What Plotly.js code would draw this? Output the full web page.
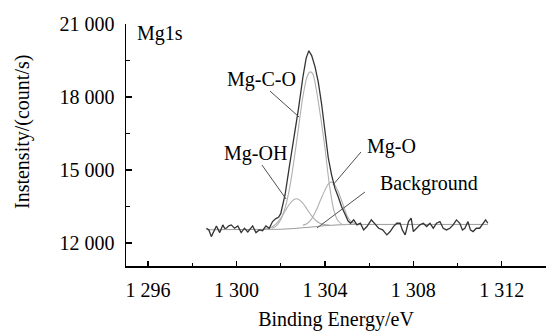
<!DOCTYPE html>
<html>
<head>
<meta charset="utf-8">
<script src="https://cdn.plot.ly/plotly-3.0.1.min.js"></script>
<style>html,body{margin:0;padding:0;background:#fff;}#chart{width:550px;height:334px;}</style>
</head>
<body>
<div id="chart"></div>
<script>
// Measured spectrum (Binding energy in eV, intensity in counts/s)
var dataX = [1298.64,1298.75,1298.86,1298.97,1299.09,1299.24,1299.38,1299.46,1299.54,1299.65,1299.76,1299.91,1300.06,1300.21,1300.36,1300.51,1300.62,1300.73,1300.88,1301.03,1301.18,1301.33,1301.48,1301.63,1301.78,1301.9,
  1302.0,1302.2,1302.4,1302.6,1302.8,1303.0,1303.15,1303.27,1303.4,1303.55,1303.7,1303.85,1304.0,1304.15,1304.3,1304.45,1304.6,1304.75,1304.9,1305.05,
  1305.16,1305.3,1305.45,1305.6,1305.75,1305.9,1306.1,1306.25,1306.43,1306.61,1306.8,1306.95,1307.1,1307.25,1307.4,1307.5,1307.63,1307.78,1307.9,1308.0,1308.15,1308.3,1308.45,1308.6,1308.75,1308.9,1309.05,1309.2,1309.35,1309.5,1309.65,1309.8,1309.95,1310.1,1310.22,1310.33,1310.47,1310.58,1310.7,1310.85,1311.0,1311.15,1311.27,1311.37];
var dataY = [12603,12530,12258,12500,12698,12423,12740,12600,12603,12700,12740,12603,12698,12423,12603,12450,12600,12698,12423,12534,12500,12698,12603,12877,13000,13050,
  13200,14000,15200,16300,17500,18800,19600,19900,19700,19250,18600,17700,16500,15500,14800,14250,13900,13500,13200,12900,
  12808,12945,12740,12808,12534,12671,12945,12808,12603,12534,12329,12466,12671,12808,12808,12534,12329,12877,13014,12466,12603,12740,12808,12671,12808,12603,12808,12877,12603,12534,12603,12740,12945,12808,12534,12603,12877,12534,12466,12603,12603,12808,12945,12808];

// Fitted components
var mgcoX = [1301.6,1301.8,1302.0,1302.2,1302.4,1302.6,1302.8,1303.0,1303.2,1303.33,1303.45,1303.6,1303.8,1304.0,1304.2,1304.4,1304.6,1304.8,1305.0];
var mgcoY = [12600,12700,12950,13450,14250,15400,16700,18000,18850,19030,18950,18350,17200,15900,14400,13350,12900,12760,12760];

var mgohX = [1301.2,1301.4,1301.6,1301.8,1302.0,1302.2,1302.4,1302.6,1302.7,1302.8,1303.0,1303.2,1303.4,1303.6,1303.8,1304.0,1304.2];
var mgohY = [12558,12586,12655,12792,13018,13310,13599,13786,13815,13796,13634,13373,13109,12912,12798,12751,12738];

var mgoX = [1303.0,1303.2,1303.4,1303.6,1303.8,1304.0,1304.15,1304.28,1304.4,1304.6,1304.8,1305.0,1305.2,1305.4];
var mgoY = [12720,12800,12990,13330,13760,14170,14420,14500,14440,14110,13620,13120,12860,12780];

var bgX = [1298.64,1301.5,1302.0,1302.5,1303.0,1303.5,1304.0,1304.5,1305.0,1311.37];
var bgY = [12540,12545,12560,12585,12615,12660,12710,12745,12760,12760];

// Axis ticks
var xTickVals = [1296,1300,1304,1308,1312];
var xTickText = ['1 296','1 300','1 304','1 308','1 312'];
var yTickVals = [12000,15000,18000,21000];
var yTickText = ['12 000','15 000','18 000','21 000'];

// Labels: text position and leader line (data coordinates)
var labelText = ['Mg-C-O','Mg-OH','Mg-O','Background'];
var labelPos = [[1301.15,18698],[1300.88,15696],[1306.99,15943],[1308.71,14422]];
var leaderFrom = [[1301.51,18245],[1301.15,15203],[1305.63,15737],[1305.81,14093]];
var leaderTo = [[1302.83,17176],[1302.24,13805],[1304.36,14380],[1303.64,12612]];

var FONT = '"Liberation Serif", "Times New Roman", Times, serif';
var TXT = '#000';
var compStyle = {color:'#b0b0b0', width:1.1, shape:'spline', smoothing:0.8};

var traces = [
  {x:bgX, y:bgY, mode:'lines', line:{color:'#9a9a9a', width:1}, hoverinfo:'skip'},
  {x:mgohX, y:mgohY, mode:'lines', line:compStyle, hoverinfo:'skip'},
  {x:mgoX, y:mgoY, mode:'lines', line:compStyle, hoverinfo:'skip'},
  {x:mgcoX, y:mgcoY, mode:'lines', line:compStyle, hoverinfo:'skip'},
  {x:dataX, y:dataY, mode:'lines', line:{color:'#333', width:1.3}, hoverinfo:'skip'}
];

var annotations = [];
var shapes = [];
for (var i = 0; i < labelText.length; i++) {
  annotations.push({x:labelPos[i][0], y:labelPos[i][1], xref:'x', yref:'y', text:labelText[i], showarrow:false,
    font:{family:FONT, size:20, color:TXT}, xanchor:'center', yanchor:'middle'});
  shapes.push({type:'line', xref:'x', yref:'y', x0:leaderFrom[i][0], y0:leaderFrom[i][1], x1:leaderTo[i][0], y1:leaderTo[i][1],
    line:{color:'#505050', width:1}});
}
annotations.push({x:1295.41, y:20630, xref:'x', yref:'y', text:'Mg1s', showarrow:false,
  font:{family:FONT, size:20, color:TXT}, xanchor:'left', yanchor:'middle'});
annotations.push({x:-0.2476, y:0.5537, xref:'paper', yref:'paper', text:'Instensity/(count/s)', showarrow:false,
  textangle:-90, font:{family:FONT, size:20, color:TXT}, xanchor:'center', yanchor:'middle'});

var layout = {
  width:550, height:334,
  margin:{l:126, r:4, t:24, b:68},
  paper_bgcolor:'#fff', plot_bgcolor:'#fff',
  showlegend:false,
  font:{family:FONT, size:20, color:TXT},
  xaxis:{
    range:[1295,1314], showgrid:false, zeroline:false,
    showline:true, linecolor:'#000', linewidth:1.5,
    ticks:'inside', ticklen:5, tickwidth:1.3, tickcolor:'#000',
    tickvals:xTickVals, ticktext:xTickText,
    ticklabelstandoff:5,
    tickfont:{family:FONT, size:20, color:TXT},
    minor:{tickvals:[1298,1302,1306,1310,1314], ticks:'inside', ticklen:3, tickwidth:1.3, tickcolor:'#000'},
    title:{text:'Binding Energy/eV', font:{family:FONT, size:20, color:TXT}, standoff:12}
  },
  yaxis:{
    range:[11050,21000], showgrid:false, zeroline:false,
    showline:true, linecolor:'#000', linewidth:1.5,
    ticks:'inside', ticklen:6, tickwidth:1.3, tickcolor:'#000',
    tickvals:yTickVals, ticktext:yTickText,
    ticklabelstandoff:6,
    tickfont:{family:FONT, size:20, color:TXT},
    minor:{tickvals:[13500,16500,19500], ticks:'inside', ticklen:4, tickwidth:1.3, tickcolor:'#000'}
  },
  annotations:annotations,
  shapes:shapes
};

Plotly.newPlot('chart', traces, layout, {displayModeBar:false, staticPlot:true});
</script>
</body>
</html>
